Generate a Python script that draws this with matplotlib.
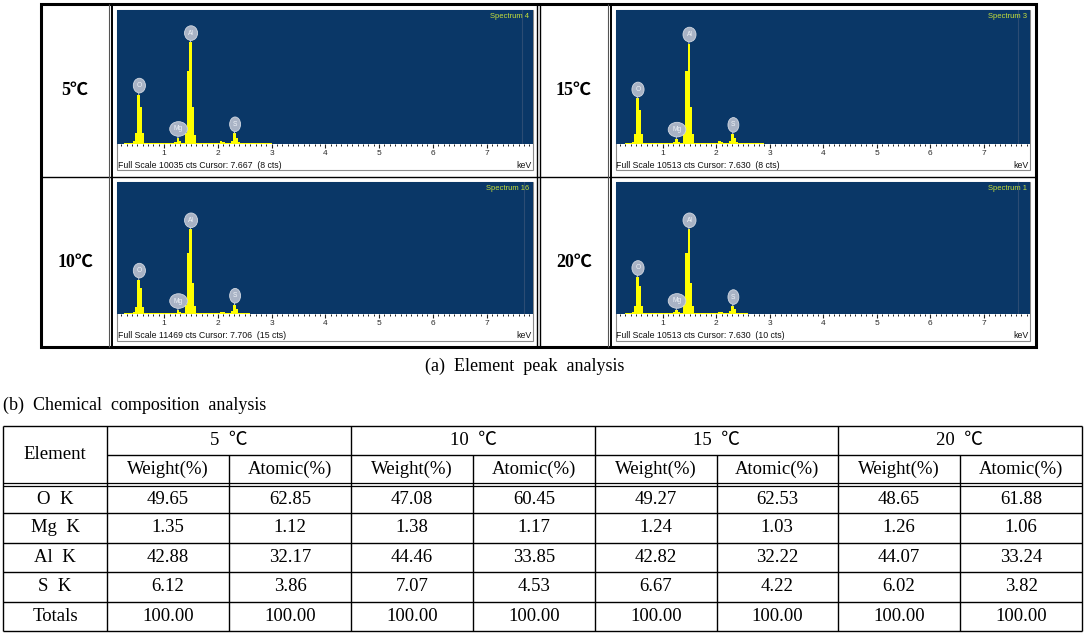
import matplotlib
matplotlib.use("Agg")
import matplotlib.pyplot as plt
from matplotlib.patches import Rectangle
from matplotlib.ticker import MultipleLocator

plt.rcParams['font.family'] = ['Liberation Sans', 'DejaVu Sans']

W, H = 1090, 635

# ---- spectrum data (channel centres in keV, counts) ----
ENERGY_KEV = [0.445, 0.485, 0.525, 0.565, 0.605,
              1.214, 1.254, 1.294,
              1.407, 1.447, 1.487, 1.527, 1.567,
              2.02, 2.06, 2.10, 2.14,
              2.267, 2.307, 2.347, 2.387]
CTS_5C = [200, 800, 3700, 2800, 800, 150, 450, 200, 800, 5500, 7630, 2800, 700,
          100, 200, 180, 90, 250, 800, 450, 120]
CTS_10C = [150, 650, 2980, 2250, 650, 120, 340, 150, 750, 5300, 7340, 2700, 700,
           100, 180, 170, 80, 250, 800, 450, 120]
CTS_15C = [180, 750, 3570, 2700, 750, 140, 420, 180, 800, 5700, 7880, 2900, 750,
           100, 200, 180, 90, 250, 790, 450, 120]
CTS_20C = [150, 650, 2940, 2200, 650, 120, 320, 150, 700, 4850, 6730, 2500, 650,
           100, 180, 160, 80, 200, 630, 380, 100]
BG_CTS = [60, 50, 55, 50]
BG_START = [0.25, 0.25, 0.3, 0.3]
BG_END = [3.0, 2.6, 2.9, 2.6]

PEAK_ELEMENTS = ['O', 'Mg', 'Al', 'S']
PEAK_KEV = [0.525, 1.254, 1.487, 2.307]

TEMPS = ['5℃', '10℃', '15℃', '20℃']
SPECTRUM_NO = [4, 16, 3, 1]
FULL_SCALE = [10035, 11469, 10513, 10513]
CURSOR_KEV = [7.667, 7.706, 7.630, 7.630]
CURSOR_CTS = [8, 15, 8, 10]
ALL_CTS = [CTS_5C, CTS_10C, CTS_15C, CTS_20C]

# ---- table data ----
ELEMENTS = ['O  K', 'Mg  K', 'Al  K', 'S  K', 'Totals']
GROUPS = ['5  ℃', '10  ℃', '15  ℃', '20  ℃']
WEIGHT_5 = [49.65, 1.35, 42.88, 6.12, 100.00]
ATOMIC_5 = [62.85, 1.12, 32.17, 3.86, 100.00]
WEIGHT_10 = [47.08, 1.38, 44.46, 7.07, 100.00]
ATOMIC_10 = [60.45, 1.17, 33.85, 4.53, 100.00]
WEIGHT_15 = [49.27, 1.24, 42.82, 6.67, 100.00]
ATOMIC_15 = [62.53, 1.03, 32.22, 4.22, 100.00]
WEIGHT_20 = [48.65, 1.26, 44.07, 6.02, 100.00]
ATOMIC_20 = [61.88, 1.06, 33.24, 3.82, 100.00]
COLUMNS = [WEIGHT_5, ATOMIC_5, WEIGHT_10, ATOMIC_10,
           WEIGHT_15, ATOMIC_15, WEIGHT_20, ATOMIC_20]

SERIF = ['Liberation Serif', 'Noto Sans CJK KR', 'DejaVu Serif']
BLUE = '#0a3767'
YELLOW = '#ffff00'

fig = plt.figure(figsize=(W / 100, H / 100), dpi=100)
bg = fig.add_axes([0, 0, 1, 1])
bg.set_xlim(0, W)
bg.set_ylim(H, 0)
bg.axis('off')


def px_rect(x0, y0, x1, y1):
    return [x0 / W, 1 - y1 / H, (x1 - x0) / W, (y1 - y0) / H]


def hline(y, x0, x1, lw=1.0, color='black'):
    bg.plot([x0, x1], [y, y], color=color, lw=lw, solid_capstyle='butt')


def vline(x, y0, y1, lw=1.0, color='black'):
    bg.plot([x, x], [y0, y1], color=color, lw=lw, solid_capstyle='butt')


# ---- (a) element peak analysis block ----
cols = [(117.3, 532.7, 75, 108.7, 111.8), (616, 1030, 574, 607.7, 610.6)]
rows = [(10, 144, 170, 90), (181.7, 314, 341, 262)]
panel_pos = [(0, 0), (0, 1), (1, 0), (1, 1)]

for i, (c, r) in enumerate(panel_pos):
    x0, x1 = cols[c][0], cols[c][1]
    top, base, bottom = rows[r][0], rows[r][1], rows[r][2]
    ax = fig.add_axes(px_rect(x0, top, x1, base))
    ax.set_facecolor(BLUE)
    for s in ax.spines.values():
        s.set_visible(False)
    ax.set_xlim(0.127, 7.86)
    ax.set_ylim(0, FULL_SCALE[i])
    ax.fill_between([BG_START[i], BG_END[i]], 0, BG_CTS[i], color=YELLOW, lw=0)
    ax.bar(ENERGY_KEV, ALL_CTS[i], width=0.048, color=YELLOW, linewidth=0)
    ax.axvline(CURSOR_KEV[i], color='#2c4c74', lw=0.8)
    for el, e in zip(PEAK_ELEMENTS, PEAK_KEV):
        top_cts = max(v for en, v in zip(ENERGY_KEV, ALL_CTS[i]) if abs(en - e) < 0.07)
        ax.annotate(el, xy=(e, top_cts), xytext=(0.5, 6.5), textcoords='offset points',
                    ha='center', va='center', fontsize=4.8, color='#eef2f7',
                    bbox=dict(boxstyle='ellipse,pad=0.25', fc='#a9b3c5', ec='#d3d9e3', lw=0.6),
                    arrowprops=dict(arrowstyle='-', color='#c0c8d4', lw=0.7,
                                    shrinkA=0, shrinkB=0))
    ax.text(0.992, 0.975, 'Spectrum %d' % SPECTRUM_NO[i], transform=ax.transAxes,
            ha='right', va='top', fontsize=5.5, color='#c6e03a')
    ax.set_yticks([])
    ax.set_xticks(range(1, 8))
    ax.xaxis.set_minor_locator(MultipleLocator(0.1))
    ax.tick_params(axis='x', which='major', direction='out', length=3, width=0.8,
                   color='#222222', labelsize=6, labelcolor='#2a2a2a', pad=1.5)
    ax.tick_params(axis='x', which='minor', direction='out', length=1.6, width=0.7,
                   color='#222222')
    # white strip + grey outline
    bg.add_patch(Rectangle((x0, top), x1 - x0, bottom - top, fill=False,
                           ec='#8a8a8a', lw=0.8))
    bg.text(x0 + 0.5, bottom - 5, 'Full Scale %d cts Cursor: %.3f  (%d cts)'
            % (FULL_SCALE[i], CURSOR_KEV[i], CURSOR_CTS[i]),
            ha='left', va='center', fontsize=6.3, color='#111111')
    bg.text(x1 - 1, bottom - 5, 'keV', ha='right', va='center', fontsize=6.3,
            color='#111111')
    bg.text(cols[c][2], rows[r][3], TEMPS[i], ha='center', va='center',
            fontsize=13, fontweight='bold', family=SERIF)

# block borders
bg.add_patch(Rectangle((41, 4), 995, 343, fill=False, ec='black', lw=2.2))
hline(176.7, 41, 1036, lw=1.0)
vline(537.4, 4, 347, lw=1.0)
vline(540.0, 4, 347, lw=1.0)
for c in cols:
    vline(c[3], 4, 347, lw=0.8, color='#555555')
    vline(c[4], 4, 347, lw=1.4)

bg.text(525, 366, '(a)  Element  peak  analysis', ha='center', va='center',
        fontsize=13, family=SERIF)
bg.text(3, 405, '(b)  Chemical  composition  analysis', ha='left', va='center',
        fontsize=13, family=SERIF)

# ---- (b) chemical composition table ----
xb = [3, 107, 229, 351, 473, 595, 716.5, 838, 960, 1082]
t_top, t_mid, d1, d2 = 426, 455, 482.7, 485.5
row_lines = [513, 542.5, 572, 601.5, 631]

hline(t_top, xb[0], xb[-1])
hline(t_mid, xb[1], xb[-1])
hline(d1, xb[0], xb[-1], lw=0.9)
hline(d2, xb[0], xb[-1], lw=0.9)
for y in row_lines:
    hline(y, xb[0], xb[-1])
for k, x in enumerate(xb):
    if k in (0, 1, 3, 5, 7, 9):
        vline(x, t_top, row_lines[-1])
    else:
        vline(x, t_mid, row_lines[-1])

tfs = 13.5
bg.text((xb[0] + xb[1]) / 2, (t_top + d1) / 2, 'Element', ha='center', va='center',
        fontsize=tfs, family=SERIF)
for g, name in enumerate(GROUPS):
    bg.text((xb[1 + 2 * g] + xb[3 + 2 * g]) / 2, (t_top + t_mid) / 2, name,
            ha='center', va='center', fontsize=tfs, family=SERIF)
for j in range(8):
    xc = (xb[1 + j] + xb[2 + j]) / 2
    bg.text(xc, (t_mid + d1) / 2, 'Weight(%)' if j % 2 == 0 else 'Atomic(%)',
            ha='center', va='center', fontsize=tfs, family=SERIF)
row_tops = [d2] + row_lines[:-1]
for k, el in enumerate(ELEMENTS):
    yc = (row_tops[k] + row_lines[k]) / 2
    bg.text((xb[0] + xb[1]) / 2, yc, el, ha='center', va='center',
            fontsize=tfs, family=SERIF)
    for j, col in enumerate(COLUMNS):
        bg.text((xb[1 + j] + xb[2 + j]) / 2, yc, '%.2f' % col[k], ha='center',
                va='center', fontsize=tfs, family=SERIF)

fig.savefig('out.png', dpi=100, facecolor='white')
